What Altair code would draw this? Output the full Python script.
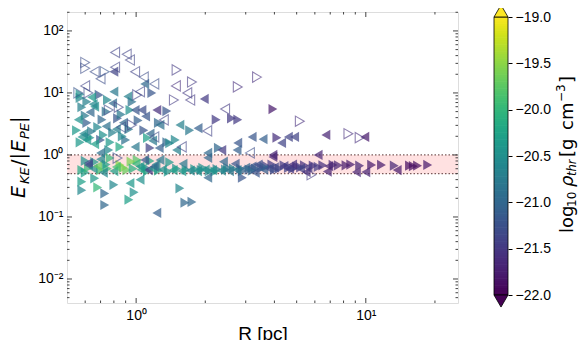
import altair as alt
import pandas as pd
import numpy as np

# ---------------- data ----------------
# filled, right-pointing markers
fr_R = [0.57, 0.69, 1.17, 0.61, 0.75, 0.96, 0.58, 0.94, 1.36, 0.61, 0.71, 0.68, 0.83, 3.94, 2.23, 2.6, 2.77,
        4.1, 0.63, 0.70, 1.08, 1.12, 1.36, 1.40, 0.85, 0.76, 1.15, 2.28, 0.55, 0.79, 0.90, 1.71, 1.48, 1.25, 0.86,
        0.58, 0.58, 0.68, 0.80, 0.73, 0.98, 0.93, 0.73, 1.55, 1.63, 1.75, 2.9, 0.66,
        0.58, 0.70, 0.91, 1.01, 0.66, 0.77, 0.85, 0.95, 1.15, 1.40, 0.75, 0.88, 0.60, 1.12, 1.25, 1.38, 1.50,
        1.65, 1.80, 1.92, 2.08, 2.25, 2.45, 2.65, 2.85, 2.9, 3.1, 3.3, 3.5, 3.7, 3.9, 4.2, 4.6, 5.0, 5.4, 5.9,
        6.2, 6.5, 7.2, 7.6, 8.2, 8.6, 9.4, 10.6, 11.7, 13.3, 15.5, 16.1, 16.8, 18.6,
        1.95, 2.2, 2.5, 3.2, 3.6, 4.0, 4.4, 4.8, 5.2,
        0.57, 0.64, 0.72, 0.77, 0.87, 0.93, 0.60, 0.74, 0.57, 1.02,
        0.62, 0.74, 0.97, 1.10, 0.60]
fr_E = [8.3, 9.3, 10.0, 7.2, 7.7, 7.2, 5.9, 5.3, 5.1, 3.3, 3.7, 2.8, 3.9, 5.5, 3.7, 3.9, 3.7,
        1.9, 1.9, 1.75, 2.5, 1.88, 1.6, 1.55, 1.35, 1.2, 1.3, 1.3, 2.5, 2.3, 1.75, 2.5, 1.75, 3.3, 4.5,
        0.37, 0.27, 0.30, 0.33, 0.24, 0.25, 0.19, 0.156, 0.29, 0.17, 0.175, 0.43, 0.42,
        0.57, 0.57, 0.57, 0.83, 0.77, 0.89, 0.69, 0.78, 0.80, 0.76, 0.60, 0.62, 0.52, 0.55, 0.56, 0.54, 0.60,
        0.58, 0.59, 0.57, 0.55, 0.59, 0.58, 0.60, 0.60, 0.55, 0.58, 0.60, 0.62, 0.66, 0.70, 0.60, 0.62, 0.65, 0.68, 0.67,
        0.64, 0.68, 0.69, 0.68, 0.68, 0.70, 0.67, 0.69, 0.69, 0.67, 0.67, 0.66, 0.67, 0.69,
        0.62, 0.54, 0.62, 0.56, 0.64, 0.58, 0.68, 0.60, 0.63,
        1.6, 2.4, 2.1, 1.6, 2.0, 2.6, 4.3, 5.0, 9.5, 3.6,
        0.62, 0.70, 0.60, 0.62, 0.80]
fr_rho = [-20.6, -21.2, -21.2, -20.7, -20.6, -20.9, -20.7, -20.5, -21.2, -21.1, -21.0, -20.6, -21.2, -21.8, -21.5, -21.5, -21.5,
          -21.6, -20.5, -21.2, -21.2, -20.3, -21.0, -20.6, -20.2, -20.6, -21.4, -21.0, -20.4, -20.7, -20.9, -20.8, -20.6, -21.0, -20.8,
          -20.3, -20.6, -20.0, -20.6, -21.0, -20.5, -20.3, -21.0, -20.6, -21.0, -21.0, -21.2, -20.4,
          -20.2, -19.9, -19.7, -19.8, -20.4, -20.0, -19.5, -19.6, -20.2, -20.4, -20.0, -19.6, -20.3, -20.3, -20.2, -20.4, -20.5,
          -20.5, -20.4, -20.6, -20.6, -20.7, -20.7, -20.7, -20.9, -21.0, -21.1, -21.0, -21.2, -21.4, -21.5, -21.3, -21.4, -21.5, -21.6, -21.6,
          -21.5, -21.6, -21.7, -21.7, -21.8, -21.8, -21.7, -21.8, -21.8, -21.7, -21.9, -21.9, -21.9, -21.8,
          -20.5, -20.4, -20.8, -21.0, -21.1, -21.3, -21.5, -21.4, -21.5,
          -20.4, -20.8, -20.5, -20.4, -20.6, -20.8, -20.8, -20.9, -20.5, -21.1,
          -20.0, -20.3, -20.1, -20.6, -20.5]

# filled, left-pointing markers
fl_R = [0.80, 1.09, 0.80, 0.63, 0.99, 1.06, 1.23, 1.55, 1.98, 3.2, 3.57, 4.3, 4.6, 4.9, 6.7, 9.9, 3.94, 6.2,
        0.58, 0.61, 0.99, 1.26, 1.50, 0.70, 2.77, 2.75, 2.05, 1.86, 2.36, 1.27, 0.56, 0.92, 0.66, 1.15,
        1.23, 2.05, 0.94, 1.04, 9.1, 10.0, 13.7, 4.66,
        0.62, 0.62, 1.13, 1.09, 1.27, 2.05, 3.94, 1.05, 1.18, 1.30, 1.45, 1.58, 1.72, 1.85, 2.00, 2.15, 2.35,
        2.55, 2.75, 1.00, 1.22, 1.60, 0.80, 0.65, 0.72, 3.0, 3.2, 3.4, 3.6, 3.8, 4.0, 4.4, 4.8, 5.2, 5.6, 6.9,
        3.3, 5.5, 6.8, 2.4, 2.7,
        0.59, 0.66, 0.74, 0.82, 0.88, 0.65, 0.79, 0.64, 1.10, 1.18,
        0.68, 0.82, 1.04, 1.20, 0.70]
fl_E = [22, 14, 10.5, 4.9, 5.3, 5.3, 5.3, 3.05, 8.0, 1.95, 1.8, 1.56, 1.95, 1.95, 2.1, 1.95, 1.0, 1.0,
        1.95, 1.75, 1.35, 1.3, 1.2, 1.08, 1.56, 1.2, 1.08, 2.7, 1.2, 3.05, 3.7, 8.8, 6.0, 2.2,
        0.116, 0.43, 0.35, 0.40, 0.53, 0.53, 0.57, 0.60,
        0.74, 0.69, 0.57, 0.83, 0.83, 0.90, 0.93, 0.58, 0.60, 0.58, 0.57, 0.55, 0.56, 0.55, 0.58, 0.57, 0.56,
        0.55, 0.57, 0.72, 0.70, 0.72, 0.55, 0.60, 0.52, 0.62, 0.65, 0.70, 0.58, 0.60, 0.63, 0.66, 0.70, 0.60, 0.63, 0.66,
        0.52, 0.53, 0.54, 0.78, 0.72,
        2.2, 1.5, 2.9, 2.6, 3.3, 6.6, 6.8, 8.5, 4.2, 1.7,
        0.66, 0.64, 0.65, 0.65, 0.85]
fl_rho = [-21.4, -21.0, -20.8, -21.0, -21.2, -21.3, -21.6, -20.7, -21.5, -21.2, -21.1, -21.4, -21.4, -21.4, -21.7, -21.8, -21.7, -21.7,
          -20.5, -20.4, -20.8, -21.1, -20.7, -20.9, -21.2, -21.1, -21.0, -21.1, -21.5, -20.9, -20.5, -20.7, -20.5, -21.0,
          -21.1, -21.0, -20.4, -20.5, -21.7, -21.7, -21.8, -21.5,
          -21.3, -21.3, -21.5, -21.2, -20.8, -21.0, -21.7, -20.2, -20.4, -20.5, -20.3, -20.4, -20.6, -20.5, -20.5, -20.5, -20.6,
          -20.8, -20.8, -20.0, -20.6, -20.8, -20.3, -20.5, -20.6, -21.0, -21.2, -21.3, -21.1, -21.3, -21.4, -21.5, -21.6, -21.4, -21.5, -21.7,
          -21.2, -21.6, -21.7, -21.0, -21.2,
          -20.6, -20.3, -20.9, -20.7, -21.0, -20.6, -21.0, -20.4, -21.2, -20.8,
          -19.7, -19.9, -20.4, -21.0, -20.6]

# open (outline only), right-pointing markers
or_R = [0.60, 0.60, 0.73, 0.56, 0.62, 1.01, 1.46, 0.76, 0.84, 0.96, 1.50, 1.75, 3.36, 2.77, 5.16, 8.4, 9.4, 0.83, 5.8]
or_E = [31, 25, 22, 10, 10, 9.3, 7.7, 5.3, 5.9, 3.05, 23.5, 15, 18, 12.5, 3.5, 2.2, 1.9, 0.89, 0.48]
or_rho = [-21.3, -21.3, -21.2, -21.2, -21.3, -21.4, -21.5, -21.3, -21.4, -21.4, -21.5, -21.5, -21.6, -21.6, -21.6, -21.6, -21.6, -21.3, -21.5]

# open (outline only), left-pointing markers
ol_R = [0.81, 0.91, 0.94, 0.66, 0.81, 0.70, 0.99, 1.08, 1.20, 0.60, 1.49, 1.04, 1.67, 1.72, 0.86, 1.32, 2.44, 2.04, 3.13, 1.58, 1.20]
ol_E = [45, 42, 34, 22, 26, 17, 22, 18, 14, 13, 13, 10.5, 10, 7.7, 2.8, 3.67, 5.5, 2.44, 1.08, 1.35, 1.95]
ol_rho = [-21.4, -21.4, -21.4, -21.3, -21.4, -21.3, -21.4, -21.3, -21.3, -21.4, -21.6, -21.4, -21.5, -21.5, -21.3, -21.4, -21.5, -21.4, -21.3, -21.4, -21.3]

band_lo, band_hi = [0.5], [1.0]
x_major = [1, 10]
x_minor = [0.6, 0.7, 0.8, 0.9, 2, 3, 4, 5, 6, 7, 8, 9, 20]
y_major = [0.01, 0.1, 1, 10, 100]
y_minor = [0.005, 0.006, 0.007, 0.008, 0.009,
           0.02, 0.03, 0.04, 0.05, 0.06, 0.07, 0.08, 0.09,
           0.2, 0.3, 0.4, 0.5, 0.6, 0.7, 0.8, 0.9,
           2, 3, 4, 5, 6, 7, 8, 9,
           20, 30, 40, 50, 60, 70, 80, 90, 200]
cb_ticks = [-22, -21.5, -21, -20.5, -20, -19.5, -19]

# ---------------- chart ----------------
W, H = 391, 291
FONT = 'DejaVu Sans'


def frame(R, E, rho, d):
    return pd.DataFrame({'R': R, 'E': E, 'rho': rho, 'dir': d})


filled = pd.concat([frame(fr_R, fr_E, fr_rho, 'right'), frame(fl_R, fl_E, fl_rho, 'left')])
opened = pd.concat([frame(or_R, or_E, or_rho, 'right'), frame(ol_R, ol_E, ol_rho, 'left')])

xs = alt.Scale(type='log', domain=[0.5, 25.2], nice=False)
ys = alt.Scale(type='log', domain=[0.0041, 202], nice=False)
cs = alt.Scale(scheme='viridis', domain=[-22, -19], clamp=True)
shp = alt.Scale(domain=['left', 'right'], range=['triangle-left', 'triangle-right'])

xaxis = alt.Axis(values=x_major, labelExpr="datum.value < 5 ? '10⁰' : '10¹'", ticks=False, domain=False,
                 grid=False, labelFontSize=14, labelPadding=5, title='R [pc]', titleFontSize=19,
                 titleFontWeight='normal', titlePadding=2, labelColor='black', titleColor='black')
yaxis = alt.Axis(values=y_major,
                 labelExpr="datum.value > 50 ? '10²' : datum.value > 5 ? '10¹' : datum.value > 0.5 ? '10⁰' : datum.value > 0.05 ? '10⁻¹' : '10⁻²'",
                 ticks=False, domain=False, grid=False, title=None, labelFontSize=14, labelPadding=4,
                 labelColor='black')

pts_f = alt.Chart(filled).mark_point(filled=True, size=105, opacity=0.72).encode(
    x=alt.X('R:Q', scale=xs, axis=xaxis),
    y=alt.Y('E:Q', scale=ys, axis=yaxis),
    color=alt.Color('rho:Q', scale=cs, legend=None),
    shape=alt.Shape('dir:N', scale=shp, legend=None),
)
pts_o = alt.Chart(opened).mark_point(filled=False, size=105, strokeWidth=1.1, opacity=0.6).encode(
    x=alt.X('R:Q', scale=xs),
    y=alt.Y('E:Q', scale=ys),
    color=alt.Color('rho:Q', scale=cs, legend=None),
    shape=alt.Shape('dir:N', scale=shp, legend=None),
)

band = alt.Chart(pd.DataFrame({'E': band_lo, 'E2': band_hi})).mark_rect(color='#ffe1e1').encode(
    y=alt.Y('E:Q', scale=ys), y2='E2:Q', x=alt.value(0), x2=alt.value(W))
band_lines = alt.Chart(pd.DataFrame({'E': band_lo + band_hi})).mark_rule(
    color='#7a5a5a', strokeDash=[1.5, 2], strokeWidth=1.2).encode(
    y=alt.Y('E:Q', scale=ys), x=alt.value(0), x2=alt.value(W))


def xticks(vals, L):
    df = pd.DataFrame({'R': vals})
    b = alt.Chart(df).mark_rule(color='#444', strokeWidth=1).encode(
        x=alt.X('R:Q', scale=xs), y=alt.value(H), y2=alt.value(H - L))
    t = alt.Chart(df).mark_rule(color='#444', strokeWidth=1).encode(
        x=alt.X('R:Q', scale=xs), y=alt.value(0), y2=alt.value(L))
    return [b, t]


def yticks(vals, L):
    df = pd.DataFrame({'E': vals})
    l = alt.Chart(df).mark_rule(color='#444', strokeWidth=1).encode(
        y=alt.Y('E:Q', scale=ys), x=alt.value(0), x2=alt.value(L))
    r = alt.Chart(df).mark_rule(color='#444', strokeWidth=1).encode(
        y=alt.Y('E:Q', scale=ys), x=alt.value(W), x2=alt.value(W - L))
    return [l, r]


ticks = xticks(x_major, 5) + xticks(x_minor, 2.5) + yticks(y_major, 5) + yticks(y_minor, 2.5)


def piece(txt, px, py, size, italic=False):
    kw = dict(angle=270, align='left', baseline='alphabetic', fontSize=size, font=FONT, color='black')
    if italic:
        kw['fontStyle'] = 'italic'
    return alt.Chart(pd.DataFrame({'t': [txt]})).mark_text(**kw).encode(
        text='t:N', x=alt.value(px), y=alt.value(py))


ytitle = [
    piece('E', -42, 186, 19, True),
    piece('KE', -38, 172, 13, True),
    piece('/|', -42, 154, 19),
    piece('E', -42, 140, 19, True),
    piece('PE', -38, 127, 13, True),
    piece('|', -42, 111, 19),
]
cbtitle = [
    piece('log', 506, 221, 18),
    piece('10', 509, 195, 12),
    piece('ρ', 506, 175, 18, True),
    piece('thr', 509, 164, 11.5, True),
    piece('[g', 506, 145, 18),
    piece('cm', 506, 118, 18),
    piece('−3', 498, 90, 12),
    piece(']', 506, 71, 18),
]

main = alt.layer(band, band_lines, *ticks, pts_f, pts_o, *ytitle, *cbtitle)

# ---------------- colorbar ----------------
cbys = alt.Scale(domain=[-22.086, -18.946], nice=False, zero=False)
cb_v = np.arange(-22, -19, 0.025)
cb_df = pd.DataFrame({'v': cb_v, 'v2': np.minimum(cb_v + 0.032, -19)})
cb_axis = alt.Axis(orient='right', offset=50, values=cb_ticks,
                   labelExpr="replace(format(datum.value, '.1f'), '-', '−')",
                   domain=False, ticks=True, tickSize=4, tickColor='black', labelFontSize=14,
                   labelPadding=3, grid=False, title=None, labelColor='black')
cb_rect = alt.Chart(cb_df).mark_rect().encode(
    y=alt.Y('v:Q', scale=cbys, axis=cb_axis), y2='v2:Q',
    x=alt.value(427), x2=alt.value(441),
    color=alt.Color('v:Q', scale=cs, legend=None))
cb_outline = alt.Chart(pd.DataFrame({'v': [-22], 'v2': [-19]})).mark_rect(
    fillOpacity=0, stroke='black', strokeWidth=0.8).encode(
    y=alt.Y('v:Q', scale=cbys), y2='v2:Q', x=alt.value(427), x2=alt.value(441))
tri_top = alt.Chart(pd.DataFrame({'v': [-18.935]})).mark_point(
    shape='M-1,0.857L1,0.857L0,-0.857Z', size=196, filled=True, fill='#fde725', stroke='black',
    strokeWidth=0.8, opacity=1).encode(y=alt.Y('v:Q', scale=cbys), x=alt.value(434))
tri_bot = alt.Chart(pd.DataFrame({'v': [-22.065]})).mark_point(
    shape='M-1,-0.857L1,-0.857L0,0.857Z', size=196, filled=True, fill='#440154', stroke='black',
    strokeWidth=0.8, opacity=1).encode(y=alt.Y('v:Q', scale=cbys), x=alt.value(434))
cbar = alt.layer(cb_rect, cb_outline, tri_top, tri_bot)

chart = alt.layer(main, cbar).resolve_scale(y='independent').properties(
    width=W, height=H,
    autosize=alt.AutoSizeParams(type='none'),
    padding={'left': 59, 'top': 4, 'right': 120, 'bottom': 37},
).configure_view(stroke='#444', strokeWidth=1.3).configure_axis(
    labelFont=FONT, titleFont=FONT).configure(background='white')

chart.save('out.html', embed_options={'renderer': 'svg', 'actions': False})
